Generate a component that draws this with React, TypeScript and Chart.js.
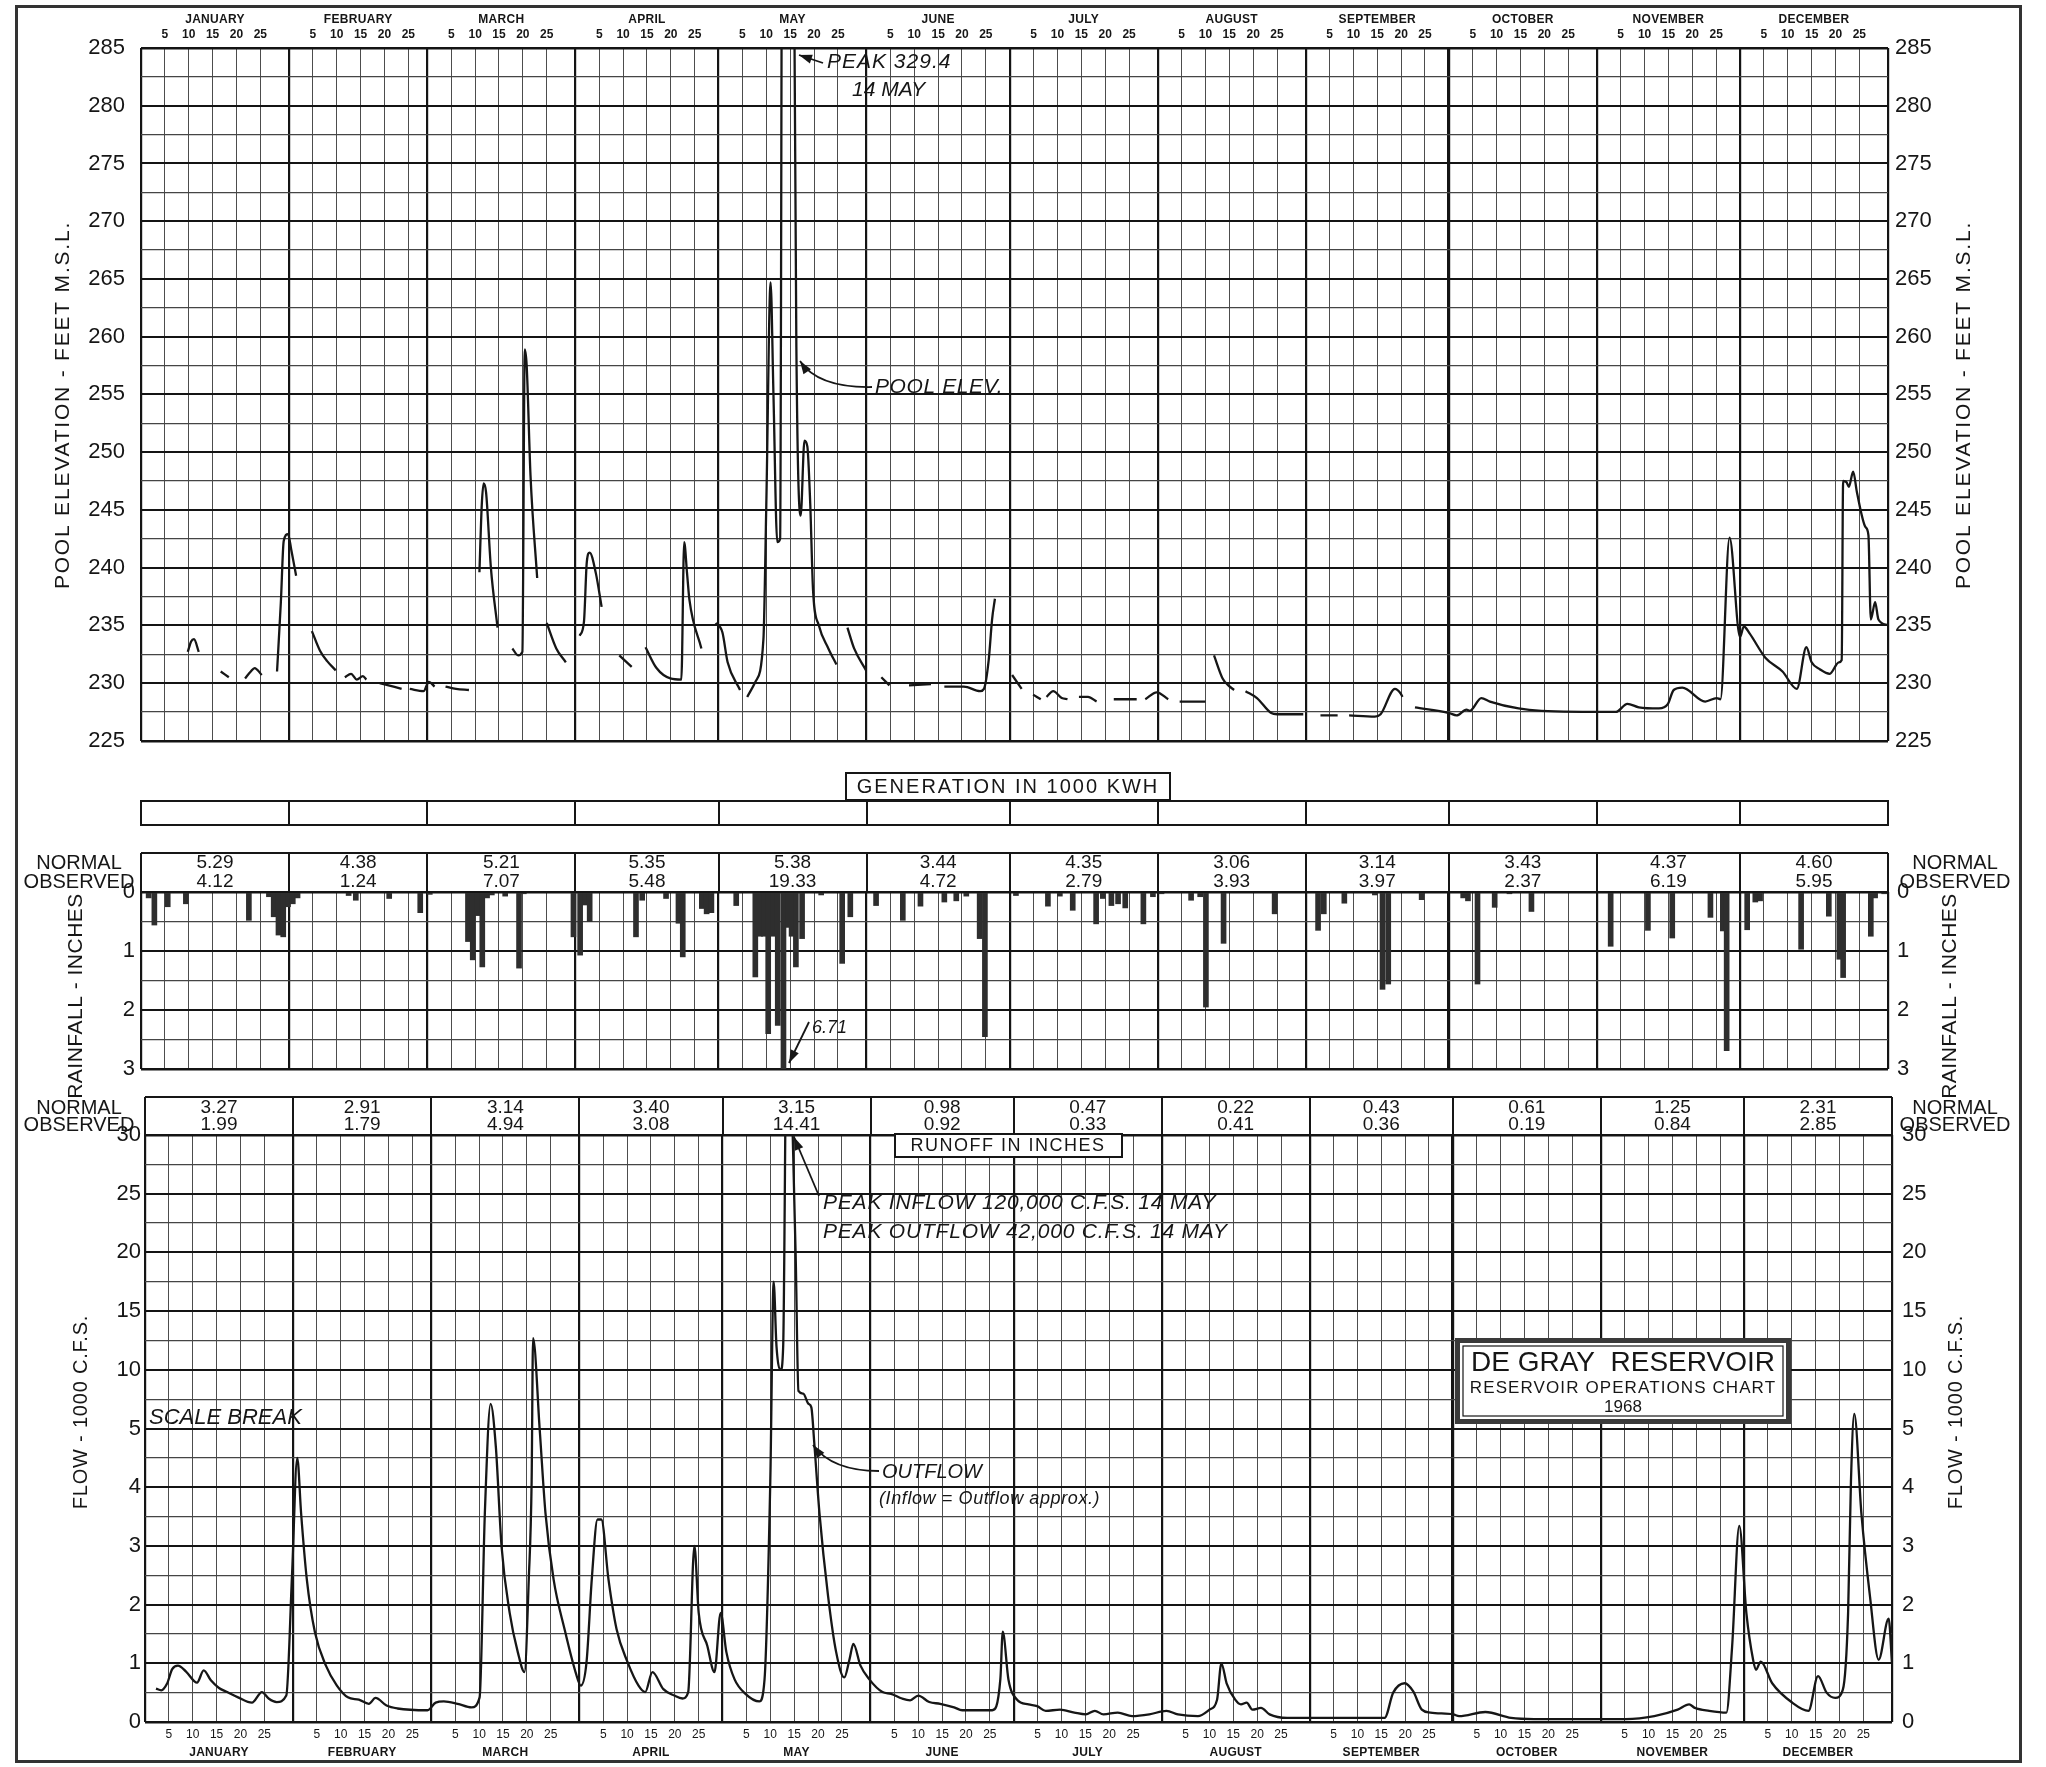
import React, { useEffect, useRef } from "react";
import { Chart, registerables } from "chart.js";

Chart.register(...registerables);

// ---------------- Calendar (1968 is a leap year) ----------------
const MONTH_NAMES = ["JANUARY", "FEBRUARY", "MARCH", "APRIL", "MAY", "JUNE", "JULY", "AUGUST", "SEPTEMBER", "OCTOBER", "NOVEMBER", "DECEMBER"];
const MONTH_DAYS = [31, 29, 31, 30, 31, 30, 31, 31, 30, 31, 30, 31];
const DAY_MARKS = [5, 10, 15, 20, 25];
const YEAR_DAYS = 366;

// ---------------- Monthly tables (inches) ----------------
const RAIN_NORMAL = [5.29, 4.38, 5.21, 5.35, 5.38, 3.44, 4.35, 3.06, 3.14, 3.43, 4.37, 4.6];
const RAIN_OBSERVED = [4.12, 1.24, 7.07, 5.48, 19.33, 4.72, 2.79, 3.93, 3.97, 2.37, 6.19, 5.95];
const RUNOFF_NORMAL = [3.27, 2.91, 3.14, 3.4, 3.15, 0.98, 0.47, 0.22, 0.43, 0.61, 1.25, 2.31];
const RUNOFF_OBSERVED = [1.99, 1.79, 4.94, 3.08, 14.41, 0.92, 0.33, 0.41, 0.36, 0.19, 0.84, 2.85];

// ---------------- Axis ticks ----------------
const POOL_TICKS = [225, 227.5, 230, 232.5, 235, 237.5, 240, 242.5, 245, 247.5, 250, 252.5, 255, 257.5, 260, 262.5, 265, 267.5, 270, 272.5, 275, 277.5, 280, 282.5, 285];
const RAIN_TICKS = [0, 0.5, 1, 1.5, 2, 2.5, 3];
const FLOW_TICK_LABELS = [0, 1, 2, 3, 4, 5, 10, 15, 20, 25, 30]; // scale break at 5

// ---------------- Pool elevation [day of year, feet M.S.L.] (null = no record) ----------------
const POOL_ELEVATION: [number, number | null][] = [
  [9.8, 232.7], [10.5, 233.6], [11.1, 233.8], [12.1, 232.7], [14, null],
  [16.7, 231.0], [18.4, 230.5], [20, null],
  [21.8, 230.4], [23.0, 231.0], [23.8, 231.3], [25.3, 230.7], [27, null],
  [28.5, 231.0], [29.3, 237.0], [29.9, 242.3], [30.8, 242.9], [31.5, 241.5], [32.5, 239.3], [34, null],
  [35.8, 234.5], [37.5, 232.8], [39.0, 231.9], [40.8, 231.1], [41.8, null],
  [42.7, 230.5], [44.0, 230.8], [45.2, 230.3], [46.5, 230.6], [47.2, 230.3], [48.5, null],
  [50.0, 230.0], [54.6, 229.5], [55.5, null],
  [56.3, 229.5], [59.2, 229.3], [60.3, 230.1], [61.5, 229.7], [62.5, null],
  [63.8, 229.7], [66.0, 229.5], [68.7, 229.4], [70, null],
  [70.9, 239.6], [71.4, 245.5], [71.8, 247.3], [72.3, 246.5], [73.3, 240.0], [74.7, 234.8], [76, null],
  [77.8, 233.0], [79.0, 232.4], [79.9, 232.7], [80.4, 258.9], [80.8, 257.5], [81.6, 248.0], [83.0, 239.1], [84, null],
  [85.0, 235.2], [87.0, 233.0], [89.0, 231.8], [90.5, null],
  [91.9, 234.1], [92.8, 235.3], [93.4, 240.5], [94.0, 241.3], [95.3, 239.5], [96.5, 236.6], [98, null],
  [100.2, 232.4], [102.8, 231.4], [104, null],
  [105.7, 233.1], [108.0, 231.3], [110.9, 230.4], [113.2, 230.3], [113.8, 242.2], [114.4, 239.5], [114.9, 237.2], [117.4, 233.0], [119, null],
  [120.4, 235.2], [121.8, 234.4], [122.9, 231.8], [125.5, 229.4], [126.2, null],
  [127.0, 228.8], [128.7, 230.1], [130.4, 233.8], [131.0, 245.4], [131.9, 264.7], [132.5, 255.0], [133.3, 242.2], [133.9, 242.5],
  [134.5, 329.4], [136.7, 300.0], [137.3, 259.1], [138.2, 244.5], [139.0, 251.0], [139.6, 250.5], [140.2, 245.6], [140.8, 238.0],
  [142.0, 235.0], [144.0, 233.0], [145.7, 231.6], [147, null],
  [148.0, 234.8], [149.4, 233.0], [151.9, 231.1], [153.5, null],
  [155.1, 230.5], [156.8, 229.8], [158.5, null],
  [160.9, 229.8], [165.5, 229.9], [167, null],
  [168.3, 229.7], [172.4, 229.7], [175.8, 229.3], [176.6, 229.5], [177.6, 232.0], [178.3, 235.5], [178.9, 237.3], [180.5, null],
  [182.5, 230.7], [184.5, 229.5], [185.7, null],
  [186.9, 229.0], [188.5, 228.6], [189.1, null],
  [189.7, 228.8], [191.1, 229.3], [192.9, 228.7], [194.1, 228.6], [195.3, null],
  [196.5, 228.8], [198.4, 228.8], [200.2, 228.4], [202, null],
  [203.8, 228.6], [208.6, 228.6], [209.5, null],
  [210.4, 228.6], [212.8, 229.2], [215.2, 228.6], [216.4, null],
  [217.6, 228.4], [223.0, 228.4], [224, null],
  [224.8, 232.4], [226.6, 230.4], [227.8, 229.8], [229.0, 229.4], [230.2, null],
  [231.4, 229.3], [233.8, 228.7], [236.8, 227.4], [238.0, 227.3], [243.5, 227.3], [245, null],
  [247.1, 227.2], [250.7, 227.2], [252, null],
  [253.1, 227.2], [258.5, 227.1], [259.7, 227.3], [262.7, 229.5], [263.9, 229.1], [264.3, 228.8], [265.5, null],
  [266.9, 227.9], [274.1, 227.4], [275.6, 227.2], [277.7, 227.7], [278.4, 227.6], [280.8, 228.7], [282.6, 228.4], [288.6, 227.8],
  [293.4, 227.6], [309.0, 227.5], [311.4, 228.2], [313.8, 227.9], [318.0, 227.8], [319.9, 228.2], [321.1, 229.4], [322.9, 229.6],
  [327.7, 228.4], [330.1, 228.7], [330.9, 228.6], [332.8, 242.6], [335.0, 234.0], [335.8, 234.9], [337.0, 234.3], [340.3, 232.2],
  [343.9, 231.0], [346.9, 229.5], [348.9, 233.1], [350.0, 231.8], [351.7, 231.2], [353.8, 230.8], [355.7, 231.8], [356.3, 232.0],
  [356.6, 247.5], [357.3, 247.4], [357.8, 247.0], [358.7, 248.3], [359.5, 246.5], [361.3, 243.5], [361.9, 242.8], [362.4, 235.5],
  [363.3, 237.0], [364.0, 235.5], [366.0, 235.0],
];

// ---------------- Daily rainfall [day of year, inches] ----------------
const RAINFALL: [number, number][] = [
  [1.6, 0.1], [2.8, 0.56], [5.6, 0.25], [9.4, 0.2], [22.6, 0.48], [26.8, 0.08], [27.8, 0.42], [28.8, 0.73], [29.8, 0.76], [30.8, 0.25], [31.8, 0.2], [32.8, 0.1],
  [43.5, 0.06], [45, 0.14], [52, 0.11], [58.5, 0.35],
  [60.5, 0.04], [68.5, 0.84], [69.5, 1.15], [70.5, 0.4], [71.5, 1.27], [72.5, 0.1], [73.5, 0.05], [76.3, 0.07], [79.2, 1.29], [80.2, 0.03],
  [90.6, 0.76], [92, 1.07], [93, 0.22], [94, 0.5], [103.7, 0.76], [105, 0.14], [110, 0.11], [112.6, 0.53], [113.5, 1.1], [117.5, 0.28], [118.5, 0.37], [119.5, 0.35],
  [124.7, 0.23], [128.7, 1.44], [129.7, 0.75], [130.5, 0.75], [131.4, 2.4], [132.4, 0.75], [133.4, 2.26], [134.6, 6.71], [135.6, 0.6], [136.3, 0.75], [137.2, 1.27], [138.5, 0.79], [142.5, 0.05], [146.9, 1.21], [148.6, 0.42],
  [154, 0.23], [159.6, 0.48], [163.3, 0.24], [168.3, 0.17], [170.8, 0.15], [172.9, 0.07], [175.7, 0.79], [176.8, 2.45],
  [183.3, 0.06], [190, 0.24], [192.5, 0.07], [195.2, 0.31], [200.1, 0.54], [201.5, 0.11], [203.3, 0.23], [204.7, 0.2], [206.2, 0.27], [210, 0.54], [212, 0.08],
  [213.8, 0.03], [220, 0.14], [221.9, 0.08], [223.1, 1.95], [226.8, 0.87], [237.5, 0.37],
  [246.6, 0.65], [247.8, 0.37], [252.1, 0.19], [258.5, 0.05], [260.1, 1.65], [261.3, 1.56], [268.3, 0.13],
  [277, 0.1], [278, 0.15], [280, 1.56], [283.6, 0.26], [286.7, 0.03], [291.3, 0.33],
  [307.9, 0.92], [315.7, 0.65], [320.8, 0.78], [328.8, 0.43], [331.4, 0.66], [332.2, 2.69],
  [336.5, 0.64], [338.2, 0.17], [339.2, 0.15], [347.8, 0.97], [353.6, 0.41], [355.8, 1.14], [356.6, 1.45], [362.4, 0.75], [363.3, 0.1], [365.2, 0.03],
];

// ---------------- Outflow [day of year, 1000 c.f.s.] ----------------
const OUTFLOW: [number, number][] = [
  [2.3, 0.57], [3.4, 0.54], [4.6, 0.65], [5.7, 0.9], [6.9, 0.96], [8.6, 0.86], [10.9, 0.67], [12.3, 0.88], [13.8, 0.71], [15.5, 0.58],
  [17.2, 0.51], [19.5, 0.42], [22.4, 0.33], [24.5, 0.51], [25.9, 0.4], [27.6, 0.34], [29.6, 0.45], [30.8, 2.5], [31.9, 4.5], [32.7, 3.56],
  [33.9, 2.43], [35.6, 1.53], [37.9, 0.96], [40.2, 0.62], [42.5, 0.42], [44.8, 0.38], [46.9, 0.31], [48.3, 0.41], [50.6, 0.28], [52.9, 0.23],
  [59.2, 0.2], [60.9, 0.33], [62.6, 0.35], [65.5, 0.31], [68.4, 0.25], [70.1, 0.42], [71.2, 3.56], [72.4, 7.1], [73.5, 4.69], [74.7, 2.99],
  [76.4, 1.86], [78.1, 1.19], [79.5, 0.85], [80.4, 2.43], [81.0, 4.1], [81.3, 12.7], [82.7, 4.97], [83.9, 3.56], [85.6, 2.43], [87.9, 1.58],
  [90.2, 0.85], [91.3, 0.62], [92.5, 1.02], [93.6, 2.43], [94.8, 3.45], [95.6, 3.45], [97.1, 2.43], [98.8, 1.58], [101.1, 1.02], [103.4, 0.62],
  [104.8, 0.51], [106.3, 0.85], [108.6, 0.56], [110.9, 0.45], [112.6, 0.4], [113.8, 0.51], [115.1, 3.0], [116.0, 1.86], [117.8, 1.3], [119.3, 0.85],
  [120.6, 1.86], [121.8, 1.19], [123.5, 0.73], [125.8, 0.48], [128.7, 0.35], [129.8, 0.73], [131.0, 4.1], [131.7, 17.5], [132.3, 12], [133.2, 10],
  [133.7, 12], [134.5, 42], [136.3, 20], [136.9, 8.2], [137.9, 7.97], [139.0, 7.1], [139.6, 6.8], [140.2, 4.77], [141.3, 3.56], [143.1, 2.15],
  [144.8, 1.19], [146.5, 0.76], [147.6, 1.07], [148.4, 1.33], [149.9, 0.96], [151.7, 0.73], [154.5, 0.51], [156.3, 0.48], [158.6, 0.4], [160.3, 0.37],
  [162.0, 0.45], [164.3, 0.34], [166.6, 0.31], [169.5, 0.25], [171.2, 0.2], [177.5, 0.2], [179.2, 0.73], [179.7, 1.54], [180.9, 0.72], [182.7, 0.38],
  [185.1, 0.3], [186.9, 0.27], [188.7, 0.19], [191.7, 0.21], [194.7, 0.16], [197.1, 0.13], [199.0, 0.19], [200.8, 0.13], [203.8, 0.16], [206.8, 0.1],
  [210.4, 0.13], [214.0, 0.19], [216.4, 0.13], [220.6, 0.1], [223.0, 0.21], [224.6, 0.38], [225.5, 1.0], [226.6, 0.66], [228.4, 0.38], [229.6, 0.3],
  [230.8, 0.33], [232.0, 0.21], [233.8, 0.24], [235.6, 0.13], [239.3, 0.07], [259.7, 0.07], [261.5, 0.5], [263.9, 0.66], [265.7, 0.52], [267.5, 0.21],
  [269.3, 0.16], [274.1, 0.13], [275.3, 0.1], [280.8, 0.17], [286.2, 0.07], [291.0, 0.05], [310.2, 0.05], [316.2, 0.1], [321.1, 0.21], [323.5, 0.3],
  [324.7, 0.24], [327.7, 0.19], [331.3, 0.16], [332.5, 1.28], [334.0, 3.34], [335.5, 1.85], [336.9, 1.06], [337.5, 0.89], [338.5, 1.03], [340.9, 0.66],
  [345.1, 0.33], [348.5, 0.19], [350.5, 0.78], [352.3, 0.5], [354.1, 0.41], [355.7, 0.55], [356.8, 1.85], [357.4, 4.1], [358.1, 6.25], [359.6, 3.54],
  [361.4, 2.13], [363.2, 1.06], [365.3, 1.76], [366.0, 1.0],
];

// ---------------- helpers ----------------
const FONT = "'Liberation Sans', Arial, sans-serif";
const INK = "#161616";
const MONTH_START: number[] = MONTH_DAYS.reduce((acc: number[], _d, i) => {
  acc.push(i === 0 ? 0 : acc[i - 1] + MONTH_DAYS[i - 1]);
  return acc;
}, []);
const X_GRID: number[] = [...MONTH_START.flatMap((s) => [s, ...DAY_MARKS.map((d) => s + d)]), YEAR_DAYS];
const isMonthLine = (v: number) => MONTH_START.includes(v) || v === YEAR_DAYS;
// scale break: 0..5 linear, 5..30 compressed 5:1
const flowToAxis = (v: number) => (v <= 5 ? v : 5 + (v - 5) / 5);

type TOpts = { size: number; weight?: string; italic?: boolean; align?: CanvasTextAlign; rot?: number; spacing?: number; color?: string };
function drawText(ctx: CanvasRenderingContext2D, s: string, x: number, y: number, o: TOpts) {
  ctx.save();
  ctx.translate(x, y);
  if (o.rot) ctx.rotate(o.rot);
  ctx.font = `${o.italic ? "italic " : ""}${o.weight || "normal"} ${o.size}px ${FONT}`;
  ctx.fillStyle = o.color || INK;
  ctx.textAlign = o.align || "center";
  ctx.textBaseline = "middle";
  (ctx as any).letterSpacing = `${o.spacing || 0}px`;
  ctx.fillText(s, 0, 0);
  ctx.restore();
}

function drawArrow(ctx: CanvasRenderingContext2D, pts: [number, number][], curved = false) {
  ctx.save();
  ctx.strokeStyle = INK;
  ctx.fillStyle = INK;
  ctx.lineWidth = 1.8;
  ctx.beginPath();
  ctx.moveTo(pts[0][0], pts[0][1]);
  if (curved && pts.length === 3) ctx.quadraticCurveTo(pts[1][0], pts[1][1], pts[2][0], pts[2][1]);
  else for (let i = 1; i < pts.length; i++) ctx.lineTo(pts[i][0], pts[i][1]);
  ctx.stroke();
  const [tx, ty] = pts[pts.length - 1];
  const [px, py] = pts[pts.length - 2];
  const a = Math.atan2(ty - py, tx - px);
  const L = 13, W = 4.5;
  ctx.beginPath();
  ctx.moveTo(tx, ty);
  ctx.lineTo(tx - L * Math.cos(a) + W * Math.sin(a), ty - L * Math.sin(a) - W * Math.cos(a));
  ctx.lineTo(tx - L * Math.cos(a) - W * Math.sin(a), ty - L * Math.sin(a) + W * Math.cos(a));
  ctx.closePath();
  ctx.fill();
  ctx.restore();
}

function drawMonthLabels(ctx: CanvasRenderingContext2D, x: any, monthY: number, dayY: number, dayWeight: string, daySize: number) {
  MONTH_NAMES.forEach((name, i) => {
    const s = MONTH_START[i];
    drawText(ctx, name, x.getPixelForValue(s + MONTH_DAYS[i] / 2), monthY, { size: 12, weight: "bold", spacing: 0.3 });
    DAY_MARKS.forEach((d) => drawText(ctx, String(d), x.getPixelForValue(s + d), dayY, { size: daySize, weight: dayWeight }));
  });
}

function drawMonthTable(ctx: CanvasRenderingContext2D, chart: any, top: number, normal: number[], observed: number[], yN: number, yO: number) {
  const x = chart.scales.x;
  const ca = chart.chartArea;
  ctx.save();
  ctx.strokeStyle = INK;
  ctx.lineWidth = 2;
  ctx.beginPath();
  ctx.moveTo(ca.left, top);
  ctx.lineTo(ca.right, top);
  [...MONTH_START, YEAR_DAYS].forEach((s) => {
    const px = Math.round(x.getPixelForValue(s));
    ctx.moveTo(px, top);
    ctx.lineTo(px, ca.top);
  });
  ctx.stroke();
  ctx.restore();
  MONTH_NAMES.forEach((_n, i) => {
    const cx = x.getPixelForValue(MONTH_START[i] + MONTH_DAYS[i] / 2);
    drawText(ctx, normal[i].toFixed(2), cx, yN, { size: 19 });
    drawText(ctx, observed[i].toFixed(2), cx, yO, { size: 19 });
  });
  [79, 1955].forEach((lx) => {
    drawText(ctx, "NORMAL", lx, yN, { size: 20 });
    drawText(ctx, "OBSERVED", lx, yO, { size: 20 });
  });
}

function xScale() {
  return {
    type: "linear",
    min: 0,
    max: YEAR_DAYS,
    offset: false,
    position: "bottom",
    afterBuildTicks: (s: any) => {
      s.ticks = X_GRID.map((v) => ({ value: v }));
    },
    afterFit: (s: any) => {
      s.height = 0;
    },
    ticks: { display: false },
    border: { display: false },
    grid: {
      offset: false,
      drawTicks: false,
      color: (c: any) => (c.tick && isMonthLine(c.tick.value) ? "#141414" : "#4d4d4d"),
      lineWidth: (c: any) => {
        const v = c.tick ? c.tick.value : 0;
        if (v === MONTH_START[9]) return 3.2;
        return isMonthLine(v) ? 2.2 : 1;
      },
    },
  };
}

function yScale(pos: "left" | "right", width: number, min: number, max: number, values: number[], label: (v: number) => string, major: (v: number) => boolean, pad: number, reverse = false) {
  return {
    type: "linear",
    position: pos,
    min,
    max,
    reverse,
    afterBuildTicks: (s: any) => {
      s.ticks = values.map((v) => ({ value: v }));
    },
    afterFit: (s: any) => {
      s.width = width;
    },
    ticks: { autoSkip: false, padding: pad, color: INK, font: { family: FONT, size: 22 }, callback: (v: any) => label(Number(v)) },
    border: { display: false },
    grid: {
      display: pos === "left",
      drawTicks: false,
      color: (c: any) => (c.tick && major(c.tick.value) ? "#141414" : "#454545"),
      lineWidth: (c: any) => {
        const v = c.tick ? c.tick.value : 0;
        if (v === min || v === max) return 2.6;
        return major(v) ? 2 : 1.2;
      },
    },
  };
}

const baseOptions = (padTop: number, padBottom: number) => ({
  responsive: false,
  animation: false,
  events: [],
  layout: { padding: { top: padTop, bottom: padBottom, left: 0, right: 0 } },
  plugins: { legend: { display: false }, tooltip: { enabled: false } },
});

// ---------------- charts ----------------
function makePool(canvas: HTMLCanvasElement) {
  const isMaj = (v: number) => v % 5 === 0;
  const lab = (v: number) => (v % 5 === 0 ? String(v) : "");
  const decor = {
    id: "poolDecor",
    afterDraw(chart: any) {
      const ctx = chart.ctx as CanvasRenderingContext2D;
      drawMonthLabels(ctx, chart.scales.x, 20, 35, "bold", 12);
      [63, 1964].forEach((tx) => drawText(ctx, "POOL ELEVATION - FEET M.S.L.", tx, 405, { size: 21, rot: -Math.PI / 2, spacing: 1.8 }));
      drawText(ctx, "PEAK 329.4", 827, 62, { size: 21, italic: true, align: "left", spacing: 1 });
      drawArrow(ctx, [[823, 63], [799, 55]]);
      drawText(ctx, "14 MAY", 852, 90, { size: 21, italic: true, align: "left" });
      drawText(ctx, "POOL ELEV.", 875, 387, { size: 21, italic: true, align: "left", spacing: 0.6 });
      drawArrow(ctx, [[872, 387], [818, 388], [800, 361]], true);
    },
  };
  return new Chart(canvas, {
    type: "line",
    data: {
      datasets: [
        {
          data: POOL_ELEVATION.map(([d, v]) => ({ x: d, y: v })),
          borderColor: INK,
          borderWidth: 2.3,
          pointRadius: 0,
          spanGaps: false,
          cubicInterpolationMode: "monotone",
        },
      ],
    },
    options: {
      ...baseOptions(48, 11),
      scales: {
        x: xScale(),
        y: yScale("left", 141, 225, 285, POOL_TICKS, lab, isMaj, 16),
        y2: yScale("right", 158, 225, 285, POOL_TICKS, lab, isMaj, 7),
      },
    },
    plugins: [decor],
  } as any);
}

// rain canvas spans page y 770..1110 (overlaps the transparent flow canvas)
function makeRain(canvas: HTMLCanvasElement) {
  const isMaj = (v: number) => Number.isInteger(v);
  const lab = (v: number) => (Number.isInteger(v) ? String(v) : "");
  const decor = {
    id: "rainDecor",
    afterDraw(chart: any) {
      const ctx = chart.ctx as CanvasRenderingContext2D;
      const ca = chart.chartArea;
      const x = chart.scales.x;
      // generation label
      ctx.save();
      ctx.strokeStyle = INK;
      ctx.lineWidth = 2;
      ctx.fillStyle = "#fff";
      ctx.fillRect(846, 3, 324, 27);
      ctx.strokeRect(846, 3, 324, 27);
      // generation row
      ctx.strokeRect(ca.left, 31, ca.right - ca.left, 24);
      ctx.beginPath();
      MONTH_START.forEach((s) => {
        const px = Math.round(x.getPixelForValue(s));
        ctx.moveTo(px, 31);
        ctx.lineTo(px, 55);
      });
      ctx.stroke();
      ctx.restore();
      drawText(ctx, "GENERATION IN 1000 KWH", 1008, 17, { size: 20, spacing: 2 });
      drawMonthTable(ctx, chart, 83, RAIN_NORMAL, RAIN_OBSERVED, 93, 112);
      [76, 1950].forEach((tx) => drawText(ctx, "RAINFALL - INCHES", tx, 226, { size: 21, rot: -Math.PI / 2, spacing: 0.5 }));
      drawText(ctx, "6.71", 812, 258, { size: 18, italic: true, align: "left" });
      drawArrow(ctx, [[809, 252], [789, 293]]);
    },
  };
  return new Chart(canvas, {
    type: "bar",
    data: {
      datasets: [
        {
          data: RAINFALL.map(([d, v]) => ({ x: d, y: v })),
          backgroundColor: "#2e2e2e",
          borderWidth: 0,
          barThickness: 5,
          grouped: false,
        },
      ],
    },
    options: {
      ...baseOptions(122, 41),
      scales: {
        x: xScale(),
        y: yScale("left", 141, 0, 3, RAIN_TICKS, lab, isMaj, 6, true),
        y2: yScale("right", 158, 0, 3, RAIN_TICKS, lab, isMaj, 9, true),
      },
    },
    plugins: [decor],
  } as any);
}

function makeFlow(canvas: HTMLCanvasElement) {
  const ticks = Array.from({ length: 21 }, (_v, i) => i * 0.5);
  const isMaj = (v: number) => Number.isInteger(v);
  const lab = (v: number) => (Number.isInteger(v) ? String(FLOW_TICK_LABELS[v]) : "");
  const decor = {
    id: "flowDecor",
    afterDraw(chart: any) {
      const ctx = chart.ctx as CanvasRenderingContext2D;
      drawMonthTable(ctx, chart, 12, RUNOFF_NORMAL, RUNOFF_OBSERVED, 23, 40);
      // runoff label box
      ctx.save();
      ctx.fillStyle = "#fff";
      ctx.strokeStyle = INK;
      ctx.lineWidth = 2;
      ctx.fillRect(895, 49, 227, 23);
      ctx.strokeRect(895, 49, 227, 23);
      ctx.restore();
      drawText(ctx, "RUNOFF IN INCHES", 1008, 61, { size: 18, spacing: 1.5 });
      drawMonthLabels(ctx, chart.scales.x, 668, 650, "normal", 12);
      [81, 1956].forEach((tx) => drawText(ctx, "FLOW - 1000 C.F.S.", tx, 327, { size: 20, rot: -Math.PI / 2, spacing: 0.8 }));
      drawText(ctx, "SCALE BREAK", 149, 333, { size: 22, italic: true, align: "left" });
      drawText(ctx, "PEAK INFLOW 120,000 C.F.S. 14 MAY", 823, 118, { size: 21, italic: true, align: "left", spacing: 0.8 });
      drawText(ctx, "PEAK OUTFLOW 42,000 C.F.S. 14 MAY", 823, 147, { size: 21, italic: true, align: "left", spacing: 0.8 });
      drawArrow(ctx, [[819, 111], [794, 52]]);
      drawText(ctx, "OUTFLOW", 882, 387, { size: 20, italic: true, align: "left" });
      drawText(ctx, "(Inflow = Outflow approx.)", 879, 414, { size: 18, italic: true, align: "left", spacing: 0.6 });
      drawArrow(ctx, [[879, 386], [832, 386], [813, 360]], true);
      // title block
      ctx.save();
      ctx.fillStyle = "#fff";
      ctx.fillRect(1455, 253, 336, 86);
      ctx.strokeStyle = "#3a3a3a";
      ctx.lineWidth = 5;
      ctx.strokeRect(1457.5, 255.5, 331, 81);
      ctx.strokeStyle = INK;
      ctx.lineWidth = 1.2;
      ctx.strokeRect(1463, 261, 320, 70);
      ctx.restore();
      drawText(ctx, "DE GRAY  RESERVOIR", 1623, 278, { size: 28 });
      drawText(ctx, "RESERVOIR OPERATIONS CHART", 1623, 303, { size: 17, spacing: 1.1 });
      drawText(ctx, "1968", 1623, 322, { size: 17 });
    },
  };
  return new Chart(canvas, {
    type: "line",
    data: {
      datasets: [
        {
          data: OUTFLOW.map(([d, v]) => ({ x: d, y: flowToAxis(v) })),
          borderColor: INK,
          borderWidth: 2.3,
          pointRadius: 0,
          cubicInterpolationMode: "monotone",
        },
      ],
    },
    options: {
      ...baseOptions(50, 45),
      scales: {
        x: xScale(),
        y: yScale("left", 145, 0, 10, ticks, lab, isMaj, 4),
        y2: yScale("right", 154, 0, 10, ticks, lab, isMaj, 10),
      },
    },
    plugins: [decor],
  } as any);
}

export default function App() {
  const poolRef = useRef<HTMLCanvasElement>(null);
  const rainRef = useRef<HTMLCanvasElement>(null);
  const flowRef = useRef<HTMLCanvasElement>(null);

  useEffect(() => {
    document.body.style.margin = "0";
    document.body.style.background = "#fff";
    const charts = [makePool(poolRef.current!), makeFlow(flowRef.current!), makeRain(rainRef.current!)];
    return () => charts.forEach((c) => c.destroy());
  }, []);

  return (
    <div style={{ position: "relative", width: 2046, height: 1767, overflow: "hidden", background: "#fff" }}>
      <canvas ref={poolRef} width={2046} height={770} style={{ position: "absolute", left: 0, top: 0 }} />
      <canvas ref={flowRef} width={2046} height={682} style={{ position: "absolute", left: 0, top: 1085 }} />
      <canvas ref={rainRef} width={2046} height={340} style={{ position: "absolute", left: 0, top: 770 }} />
      <div
        style={{
          position: "absolute",
          left: 15,
          top: 5,
          width: 2007,
          height: 1758,
          border: "3px solid #333",
          boxSizing: "border-box",
          pointerEvents: "none",
        }}
      />
    </div>
  );
}
